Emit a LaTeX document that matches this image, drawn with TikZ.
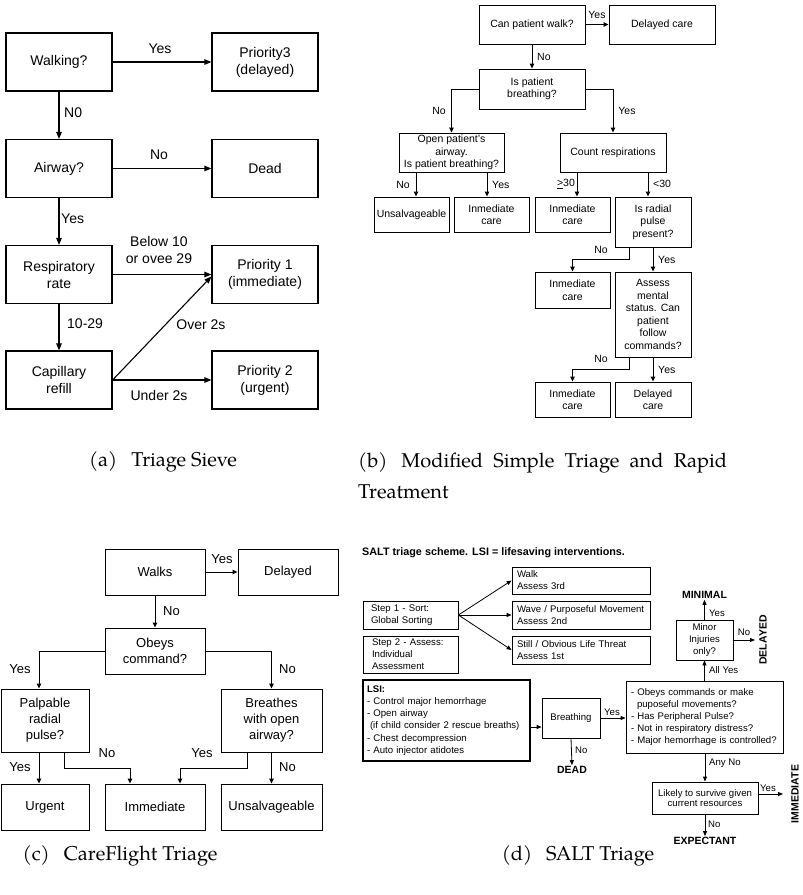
\documentclass[tikz,border=0pt]{standalone}
\usepackage{fontspec}
\setmainfont{Liberation Sans}
\newfontfamily\capfont{TeX Gyre Pagella}
\usetikzlibrary{arrows.meta,calc}
\newcommand\myfa{\fontsize{14}{17}\selectfont}
\newcommand\myfb{\fontsize{10.5}{12.5}\selectfont}
\newcommand\myfc{\fontsize{13}{16}\selectfont}
\newcommand\myfd{\fontsize{9.6}{12.1}\selectfont\hyphenpenalty=10000\relax}
\newcommand\myfcap{\capfont\fontsize{20}{29}\selectfont}
\begin{document}
\begin{tikzpicture}[x=1pt,y=-1pt,
  boxa/.style={draw, line width=1.2pt, align=center, font=\myfa, inner sep=0pt, minimum width=106pt, minimum height=58pt},
  lba/.style={font=\myfa, inner sep=1pt},
  ara/.style={line width=1.1pt, -{Triangle[length=7pt,width=5.5pt]}},
  boxb/.style={draw, line width=0.9pt, align=center, font=\myfb, inner sep=0pt},
  lbb/.style={font=\myfb, inner sep=1pt},
  arb/.style={line width=0.9pt, -{Triangle[length=5pt,width=4.5pt]}},
  boxc/.style={draw, line width=0.9pt, align=center, font=\myfc, inner sep=0pt},
  lbc/.style={font=\myfc, inner sep=1pt},
  arrc/.style={line width=0.9pt, -{Triangle[length=5pt,width=4.5pt]}},
  boxd/.style={draw, line width=0.8pt, align=left, font=\myfd, inner ysep=0pt},
  lbd/.style={font=\myfd, inner sep=1pt},
  bld/.style={font=\myfd\fontsize{10.5}{12}\selectfont\bfseries, inner sep=1pt},
  ard/.style={line width=0.8pt, -{Triangle[length=5pt,width=4pt]}},
  captxt/.style={font=\myfcap, inner sep=0pt}]
\useasboundingbox (0,0) rectangle (803,895);

% ---------------- (a) Triage Sieve
\node[boxa] (walking) at (59,62) {Walking?};
\node[boxa] (prio3) at (265,62) {Priority3\\(delayed)};
\node[boxa] (airway) at (59,168.5) {Airway?};
\node[boxa] (dead) at (265,168.5) {Dead};
\node[boxa] (resp) at (59,274.5) {Respiratory\\rate};
\node[boxa] (prio1) at (265,274.5) {Priority 1\\(immediate)};
\node[boxa] (capil) at (59,380) {Capillary\\refill};
\node[boxa] (prio2) at (265,380) {Priority 2\\(urgent)};
\draw[ara] (walking.east) -- (prio3.west);
\draw[ara] (walking.south) -- (airway.north);
\draw[ara] (airway.east) -- (dead.west);
\draw[ara] (airway.south) -- (resp.north);
\draw[ara] (resp.east) -- (prio1.west);
\draw[ara] (resp.south) -- (capil.north);
\draw[ara] (capil.east) -- (prio2.west);
\draw[ara] (capil.east) -- ([yshift=-2pt]prio1.west);
\node[lba] (la1) at (160,49) {Yes};
\node[lba, anchor=west] (la2) at (63,113) {N0};
\node[lba] (la3) at (159,155) {No};
\node[lba, anchor=west] (la4) at (60,219) {Yes};
\node[lba, align=center] (la5) at (159,250) {Below 10\\or ovee 29};
\node[lba, anchor=west] (la6) at (66,324) {10-29};
\node[lba] (la7) at (201,325) {Over 2s};
\node[lba] (la8) at (159,395) {Under 2s};
\node[captxt] (capa) at (163,462) {(a)\hspace{0.7em}Triage Sieve};

% ---------------- (b) Modified START
\node[boxb, minimum width=106pt, minimum height=39pt] (walkq) at (532,24.5) {Can patient walk?};
\node[boxb, minimum width=106pt, minimum height=39pt] (delc) at (662,24.5) {Delayed care};
\node[boxb, minimum width=106pt, minimum height=40pt] (breathq) at (532,89) {Is patient\\breathing?};
\node[boxb, minimum width=105pt, minimum height=39pt] (openq) at (451.5,152.5) {Open patient's\\airway.\\Is patient breathing?};
\node[boxb, minimum width=106pt, minimum height=39pt] (countr) at (613,152.5) {Count respirations};
\node[boxb, minimum width=75pt, minimum height=35pt] (unsalv) at (411.5,214.5) {Unsalvageable};
\node[boxb, minimum width=75pt, minimum height=35pt] (imm1) at (491.5,214.5) {Inmediate\\care};
\node[boxb, minimum width=75pt, minimum height=35pt] (imm2) at (572.5,214.5) {Inmediate\\care};
\node[boxb, minimum width=76pt, minimum height=50pt] (radial) at (653,222) {Is radial\\pulse\\present?};
\node[boxb, minimum width=75pt, minimum height=36pt] (imm3) at (572.5,290) {Inmediate\\care};
\node[boxb, minimum width=76pt, minimum height=85pt] (mental) at (653,314.5) {Assess\\mental\\status. Can\\patient\\follow\\commands?};
\node[boxb, minimum width=75pt, minimum height=35pt] (imm4) at (572.5,399.5) {Inmediate\\care};
\node[boxb, minimum width=76pt, minimum height=35pt] (delc2) at (653,399.5) {Delayed\\care};
\draw[arb] (walkq.east) -- (delc.west);
\draw[arb] (walkq.south) -- (breathq.north);
\draw[arb] (breathq.west) -| (openq.north);
\draw[arb] (breathq.east) -| (countr.north);
\draw[arb] ([xshift=4.5pt]unsalv.north |- openq.south) -- ([xshift=4.5pt]unsalv.north);
\draw[arb] ([xshift=-4.5pt]imm1.north |- openq.south) -- ([xshift=-4.5pt]imm1.north);
\draw[arb] ([xshift=4.5pt]imm2.north |- countr.south) -- ([xshift=4.5pt]imm2.north);
\draw[arb] ([xshift=-5pt]radial.north |- countr.south) -- ([xshift=-5pt]radial.north);
\draw[arb] ([xshift=-24pt]radial.south) -- ++(0,12) -| (imm3.north);
\draw[arb] (radial.south) -- (mental.north);
\draw[arb] ([xshift=-24pt]mental.south) -- ++(0,12) -| (imm4.north);
\draw[arb] (mental.south) -- (delc2.north);
\node[lbb] (lb1) at (597,15) {Yes};
\node[lbb, anchor=west] (lb2) at (536,57) {No};
\node[lbb] (lb3) at (439,111) {No};
\node[lbb] (lb4) at (627,111) {Yes};
\node[lbb] (lb5) at (403,185) {No};
\node[lbb, anchor=west] (lb6) at (491,185) {Yes};
\node[lbb] (lb7) at (566,184) {\underline{>}30};
\node[lbb, anchor=west] (lb8) at (652,184) {<30};
\node[lbb] (lb9) at (601,250) {No};
\node[lbb, anchor=west] (lb10) at (657,260) {Yes};
\node[lbb] (lb11) at (601,359) {No};
\node[lbb, anchor=west] (lb12) at (657,370) {Yes};
\node[captxt, anchor=west] (capb1) at (358,463) {\makebox[369pt][s]{(b)\hspace{0.7em}Modified Simple Triage and Rapid}};
\node[captxt, anchor=west] (capb2) at (358,492) {Treatment};

% ---------------- (c) CareFlight
\node[boxc, minimum width=100pt, minimum height=46pt] (walks) at (155,572) {Walks};
\node[boxc, minimum width=100pt, minimum height=46pt] (delayed) at (288,572) {Delayed};
\node[boxc, minimum width=100pt, minimum height=46pt] (obeys) at (155,651) {Obeys\\command?};
\node[boxc, minimum width=88pt, minimum height=63pt] (palp) at (45,720.5) {Palpable\\radial\\pulse?};
\node[boxc, minimum width=101pt, minimum height=63pt] (breathes) at (271.5,720.5) {Breathes\\with open\\airway?};
\node[boxc, minimum width=88pt, minimum height=46pt] (urgent) at (45,807) {Urgent};
\node[boxc, minimum width=100pt, minimum height=46pt] (immed) at (155,807) {Immediate};
\node[boxc, minimum width=101pt, minimum height=46pt] (unsalv2) at (271.5,807) {Unsalvageable};
\draw[arrc] (walks.east) -- (delayed.west);
\draw[arrc] (walks.south) -- (obeys.north);
\draw[arrc] (obeys.west) -| ([xshift=-6pt]palp.north);
\draw[arrc] (obeys.east) -| (breathes.north);
\draw[arrc] ([xshift=-6pt]palp.south) -- ([xshift=-6pt]urgent.north);
\draw[arrc] ([xshift=19pt]palp.south) -- ++(0,16) -| ([xshift=-25pt]immed.north);
\draw[arrc] ([xshift=-24.5pt]breathes.south) -- ++(0,16) -| ([xshift=25pt]immed.north);
\draw[arrc] (breathes.south) -- (unsalv2.north);
\node[lbc] (lc1) at (222,559) {Yes};
\node[lbc, anchor=west] (lc2) at (162,611) {No};
\node[lbc] (lc3) at (20,669) {Yes};
\node[lbc, anchor=west] (lc4) at (278,669) {No};
\node[lbc] (lc5) at (20,767) {Yes};
\node[lbc] (lc6) at (107,753) {No};
\node[lbc] (lc7) at (202,753) {Yes};
\node[lbc, anchor=west] (lc8) at (278,767) {No};
\node[captxt] (capc) at (120,856) {(c)\hspace{0.7em}CareFlight Triage};

% ---------------- (d) SALT
\node[anchor=west, font=\fontsize{10.8}{12}\selectfont\bfseries, inner sep=0pt] (title) at (362,553) {SALT triage scheme. LSI = lifesaving interventions.};
\node[boxd, inner xsep=5pt, text width=128pt, minimum height=27pt] (walkd) at (581,580.5) {Walk\\Assess 3rd};
\node[boxd, inner xsep=5pt, text width=128pt, minimum height=28pt] (wave) at (581,615) {Wave / Purposeful Movement\\Assess 2nd};
\node[boxd, inner xsep=5pt, text width=128pt, minimum height=28pt] (still) at (581,650) {Still / Obvious Life Threat\\Assess 1st};
\node[boxd, inner xsep=8pt, text width=79pt, minimum height=28pt] (step1) at (410.5,615) {Step 1 - Sort:\\Global Sorting};
\node[boxd, inner xsep=9pt, text width=77pt, minimum height=37pt] (step2) at (410.5,654.5) {Step 2 - Assess:\\Individual\\Assessment};
\node[boxd, line width=2pt, inner xsep=4pt, text width=159pt, minimum height=81pt] (lsi) at (446.5,720.5) {\textbf{LSI:}\\- Control major hemorrhage\\- Open airway\\\hspace*{3pt}(if child consider 2 rescue breaths)\\- Chest decompression\\- Auto injector atidotes};
\node[boxd, align=center, inner xsep=0pt, minimum width=58pt, minimum height=40pt] (breath) at (571,718) {Breathing};
\node[boxd, inner xsep=5pt, text width=147pt, minimum height=72pt] (big) at (704.5,717) {- Obeys commands or make\\\hspace*{6pt}puposeful movements?\\- Has Peripheral Pulse?\\- Not in respiratory distress?\\- Major hemorrhage is controlled?};
\node[boxd, align=center, inner xsep=0pt, minimum width=57pt, minimum height=40pt] (minor) at (704.5,640) {Minor\\Injuries\\only?};
\node[boxd, align=center, inner xsep=0pt, minimum width=106pt, minimum height=32pt, font=\myfd\fontsize{9.6}{10.5}\selectfont] (likely) at (705,798) {Likely to survive given\\current resources};
\node[bld] (dead2) at (572,770) {DEAD};
\node[bld] (minimal) at (704.5,595) {MINIMAL};
\node[bld, rotate=90] (delayedd) at (763,640) {DELAYED};
\node[bld, rotate=90] (immd) at (795,794) {IMMEDIATE};
\node[bld] (expect) at (705,841) {EXPECTANT};
\coordinate (dlend) at (755,640);
\coordinate (imend) at (783,794);
\draw[ard] (step1.east) -- (walkd.west);
\draw[ard] (step1.east) -- (wave.west);
\draw[ard] (step1.east) -- (still.west);
\draw[ard] ([yshift=-6.5pt]lsi.east) -- ([yshift=-6.5pt]lsi.east -| breath.west);
\draw[ard] (breath.south) -- (dead2.north);
\draw[ard] (breath.east) -- (breath.east -| big.west);
\draw[ard] (big.north) -- (minor.south);
\draw[ard] (minor.north) -- (minimal.south);
\draw[ard] (minor.east) -- (dlend);
\draw[ard] (big.south -| likely.north) -- (likely.north);
\draw[ard] (likely.east |- imend) -- (imend);
\draw[ard] (likely.south) -- (expect.north);
\node[lbd] (ld1) at (612,712) {Yes};
\node[lbd, anchor=west] (ld2) at (574,750) {No};
\node[lbd, anchor=west] (ld3) at (708,670) {All Yes};
\node[lbd, anchor=west] (ld4) at (708,613) {Yes};
\node[lbd] (ld5) at (744,632) {No};
\node[lbd, anchor=west] (ld6) at (708,763) {Any No};
\node[lbd] (ld7) at (768,788) {Yes};
\node[lbd, anchor=west] (ld8) at (707,824) {No};
\node[captxt] (capd) at (578,856) {(d)\hspace{0.7em}SALT Triage};
\end{tikzpicture}
\end{document}
